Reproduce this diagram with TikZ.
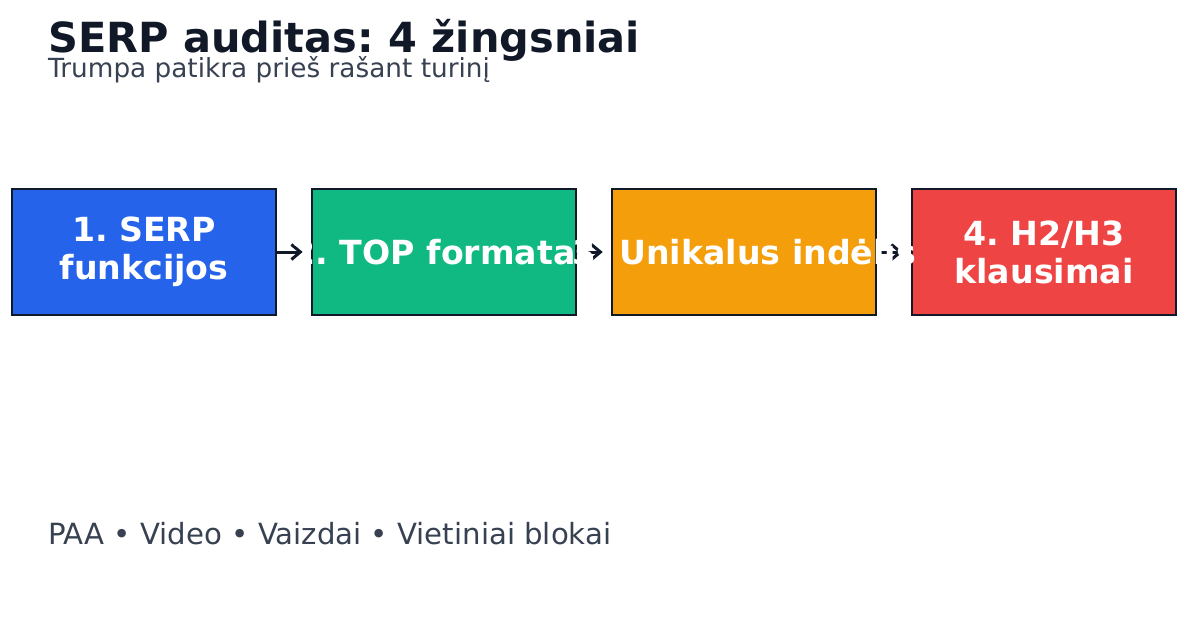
\documentclass[tikz,border=0pt]{standalone}
\usepackage{fontspec}
\setmainfont{DejaVu Sans}
\usetikzlibrary{arrows.meta}
\frenchspacing

\definecolor{inkdark}{HTML}{111827}
\definecolor{subgray}{HTML}{374151}
\definecolor{stepblue}{HTML}{2563EB}
\definecolor{stepgreen}{HTML}{10B981}
\definecolor{steporange}{HTML}{F59E0B}
\definecolor{stepred}{HTML}{EF4444}

\begin{document}
\begin{tikzpicture}[x=1pt, y=1pt,
    box/.style={rectangle, minimum width=264pt, minimum height=126pt, inner sep=0pt, draw=inkdark, line width=2.5pt},
    boxtext/.style={text=white, align=center, font=\fontsize{33.2}{38}\selectfont\bfseries},
    flow/.style={-{Straight Barb[length=9pt, width=15pt, line width=3pt]}, draw=inkdark, line width=3pt, shorten >=8pt}]
        \useasboundingbox (0,0) rectangle (1200,-630);

        \node[anchor=base west, text=inkdark, font=\fontsize{41.5}{48}\selectfont\bfseries, inner sep=0pt] (title) at (48,-52) {SERP auditas: 4 žingsniai};
        \node[anchor=base west, text=subgray, font=\fontsize{26.3}{30}\selectfont, inner sep=0pt] (subtitle) at (48,-77) {Trumpa patikra prieš rašant turinį};

        \node[box, fill=stepblue] (serp) at (144,-252) {};
        \node[box, fill=stepgreen] (top) at (444,-252) {};
        \node[box, fill=steporange] (unique) at (744,-252) {};
        \node[box, fill=stepred] (heads) at (1044,-252) {};

        \draw[flow] (serp) -- (top);
        \draw[flow] (top) -- (unique);
        \draw[flow] (unique) -- (heads);

        \node[boxtext] (serptext) at (serp) {1. SERP\\funkcijos};
        \node[boxtext] (toptext) at (top) {2. TOP formatas};
        \node[boxtext] (uniquetext) at (unique) {3. Unikalus indėlis};
        \node[boxtext] (headstext) at (heads) {4. H2/H3\\klausimai};

        \node[anchor=base west, text=subgray, font=\fontsize{29.2}{34}\selectfont, inner sep=0pt] (features) at (48,-544) {PAA • Video • Vaizdai • Vietiniai blokai};

    \end{tikzpicture}
\end{document}
